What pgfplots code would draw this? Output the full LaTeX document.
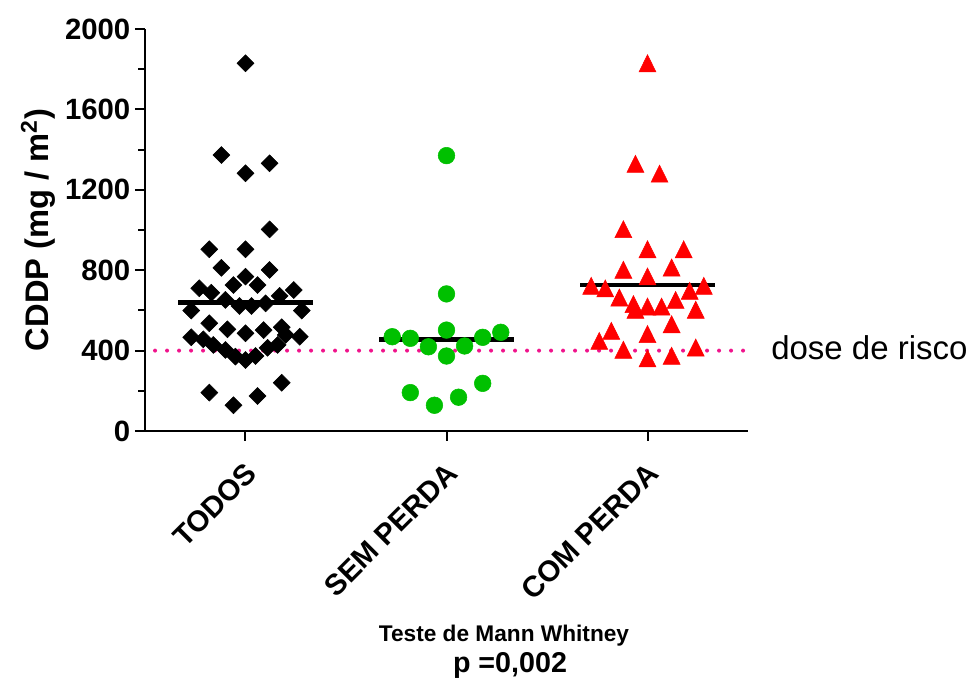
\documentclass[border=0pt]{standalone}
\usepackage{fontspec}
\setmainfont{Liberation Sans}
\usepackage{pgfplots}
\pgfplotsset{compat=1.18}
\definecolor{mgreen}{RGB}{0,192,0}
\definecolor{mred}{RGB}{255,0,0}
\definecolor{dpink}{RGB}{240,20,140}
\begin{document}
\begin{tikzpicture}
\useasboundingbox (0,0) rectangle (729pt,510pt);
\begin{axis}[
  at={(108.75pt,186.75pt)}, anchor=south west,
  scale only axis, width=452.25pt, height=301.5pt,
  xmin=-0.5, xmax=2.5, ymin=0, ymax=2000,
  axis lines=left, axis line style={-, line width=1.9pt},
  clip=false,
  xtick={0,1,2}, xticklabels={TODOS,SEM PERDA,COM PERDA},
  ytick={0,400,800,1200,1600,2000}, minor y tick num=1,
  tick align=outside, major tick length=7.5pt, minor tick length=5pt,
  every tick/.style={black, line width=1.5pt},
  /pgf/number format/assume math mode=true,
  /pgf/number format/1000 sep={},
  yticklabel style={font=\bfseries\fontsize{22}{26}\selectfont},
  xticklabel style={font=\bfseries\fontsize{22}{26}\selectfont, rotate=45, anchor=north east, inner sep=2pt, xshift=-9pt, yshift=-7.5pt},
  ylabel={\bfseries CDDP (mg / m\textsuperscript{2})},
  ylabel style={font=\bfseries\fontsize{24.5}{28}\selectfont},
]
% dose de risco line
\addplot[dpink, line width=3pt, line cap=round, dash pattern=on 0pt off 9pt] coordinates {(-0.45,400) (2.5,400)};
% TODOS
\addplot[only marks, mark=square*, mark size=4.5pt, mark options={rotate=45, fill=black, draw=black}] coordinates {
(0.0,1829) (-0.12,1373) (0.0,1282) (0.12,1332) (0.12,1003) (-0.18,904) (0.0,904)
(-0.12,812) (0.12,801) (0.0,768) (-0.06,726) (0.06,726) (-0.23,710) (0.24,701)
(-0.17,688) (0.17,672) (-0.10,652) (-0.03,622) (0.03,622) (0.10,635) (-0.27,599)
(0.28,599) (-0.18,536) (-0.09,506) (0.0,486) (0.09,502) (0.18,516) (-0.27,466)
(-0.21,456) (0.20,478) (0.27,469) (-0.16,428) (-0.10,403) (-0.05,370) (0.0,353)
(0.05,373) (0.11,414) (0.16,428) (0.18,240) (-0.18,191) (0.06,174) (-0.06,128)
};
% SEM PERDA
\addplot[only marks, mark=*, mark size=6.25pt, mark options={fill=mgreen, draw=mgreen}] coordinates {
(1.0,1370) (1.0,682) (1.0,502) (0.73,469) (0.82,461) (0.91,419) (1.0,373)
(1.09,423) (1.18,466) (1.27,491) (0.82,191) (0.94,128) (1.06,168) (1.18,237)
};
% COM PERDA
\addplot[only marks, mark=triangle*, mark size=7.35pt, mark options={fill=mred, draw=mred, yscale=1.16}] coordinates {
(2.0,1815) (1.94,1315) (2.06,1266)
(1.88,990) (2.0,890) (2.18,890) (1.88,788) (2.12,799) (2.0,755) (1.72,708)
(1.79,695) (2.28,708) (2.21,683) (1.86,650) (1.93,617) (2.0,605) (2.07,605)
(2.14,638) (1.94,589) (2.24,589) (2.12,517) (1.82,484) (2.0,468) (1.76,434)
(1.88,390) (2.24,401) (2.0,347) (2.12,360)
};
% medians
\addplot[black, line width=3.4pt] coordinates {(-0.335,638) (0.335,638)};
\addplot[black, line width=3.4pt] coordinates {(0.665,456) (1.335,456)};
\addplot[black, line width=3.4pt] coordinates {(1.665,726) (2.335,726)};
\end{axis}
\node[anchor=base west, font=\fontsize{24.75}{28}\selectfont, inner sep=0pt] at (578.25pt,240pt) {dose de risco};
\node[anchor=base, font=\bfseries\fontsize{17}{20}\selectfont, inner sep=0pt] at (378pt,28.5pt) {Teste de Mann Whitney};
\node[anchor=base, font=\bfseries\fontsize{21.5}{24}\selectfont, inner sep=0pt] at (382.5pt,5.25pt) {p =0,002};
\end{tikzpicture}
\end{document}
